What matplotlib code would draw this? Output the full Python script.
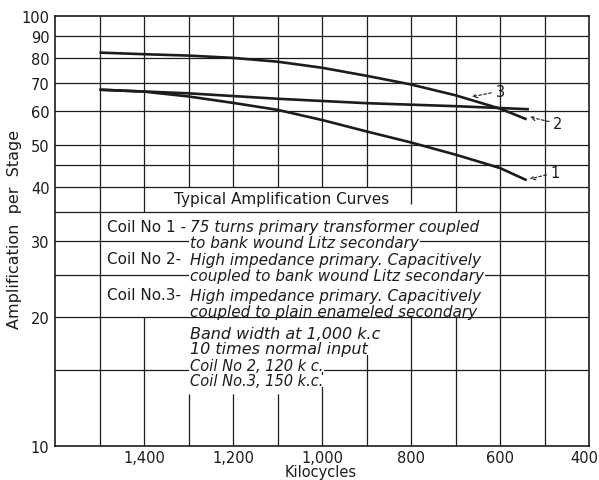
import matplotlib.pyplot as plt
from matplotlib.patches import Rectangle
from matplotlib.transforms import blended_transform_factory, ScaledTranslation, IdentityTransform

# curves (kilocycles, amplification per stage)
kc_coil1 = [1500, 1400, 1300, 1200, 1100, 1000, 900, 800, 700, 600, 540]
amp_coil1 = [67.4, 66.7, 65.0, 62.8, 60.5, 57.3, 53.9, 50.8, 47.6, 44.3, 41.5]
kc_coil2 = [1500, 1300, 1100, 900, 700, 535]
amp_coil2 = [67.4, 66.1, 64.2, 62.7, 61.7, 60.7]
kc_coil3 = [1500, 1400, 1300, 1200, 1100, 1000, 900, 800, 700, 600, 540]
amp_coil3 = [82.2, 81.5, 80.9, 79.9, 78.3, 75.8, 72.6, 69.3, 65.4, 60.9, 57.5]

y_ticks = [10, 20, 30, 40, 50, 60, 70, 80, 90, 100]
x_ticks = [1400, 1200, 1000, 800, 600, 400]
x_tick_labels = ["1,400", "1,200", "1,000", "800", "600", "400"]
h_grid = [15, 20, 25, 30, 35, 40, 45, 50, 60, 70, 80, 90]

title = "Typical Amplification Curves"
coil_heads = ["Coil No 1 -", "Coil No 2-", "Coil No.3-"]
coil_text = [["75 turns primary transformer coupled", "to bank wound Litz secondary"],
             ["High impedance primary. Capacitively", "coupled to bank wound Litz secondary"],
             ["High impedance primary. Capacitively", "coupled to plain enameled secondary"]]
band_text = ["Band width at 1,000 k.c", "10 times normal input",
             "Coil No 2, 120 k c.", "Coil No.3, 150 k.c."]

ink = "#1c1c1c"
fig = plt.figure(figsize=(5.99, 4.81), dpi=100)
ax = fig.add_axes([55 / 599, 34 / 481, 534 / 599, 430 / 481])
ax.set_yscale("log")
ax.set_xlim(1600, 400)
ax.set_ylim(10, 100)

# grid: horizontal lines full width, vertical lines broken round the text block
for v in h_grid:
    ax.axhline(v, color=ink, lw=0.9, zorder=1)
v_segments = {1500: [(10, 100)], 1400: [(10, 20), (35, 100)],
              1300: [(10, 13.2), (40, 100)], 1200: [(10, 13.2), (40, 100)],
              1100: [(10, 13.2), (40, 100)], 1000: [(10, 15), (40, 100)],
              900: [(10, 16.5), (40, 100)], 800: [(10, 20), (36.5, 100)],
              700: [(10, 20), (35, 100)], 600: [(10, 100)], 500: [(10, 100)]}
for k in v_segments:
    for lo, hi in v_segments[k]:
        ax.vlines(k, lo, hi, color=ink, lw=0.9, zorder=1)

ax.plot(kc_coil1, amp_coil1, color=ink, lw=1.9, zorder=4, solid_capstyle="butt")
ax.plot(kc_coil2, amp_coil2, color=ink, lw=1.9, zorder=4, solid_capstyle="butt")
ax.plot(kc_coil3, amp_coil3, color=ink, lw=1.9, zorder=4, solid_capstyle="butt")

arrow = dict(arrowstyle="->", color=ink, lw=0.8, ls=(0, (2.5, 2)),
             shrinkA=1, shrinkB=0, mutation_scale=8)
ax.annotate("3", xy=(663, 64.9), xytext=(600, 66.9), fontsize=10.5, color=ink,
            ha="center", va="center", arrowprops=arrow, zorder=5)
ax.annotate("2", xy=(533, 58.2), xytext=(470, 56.2), fontsize=10.5, color=ink,
            ha="center", va="center", arrowprops=arrow, zorder=5)
ax.annotate("1", xy=(533, 41.8), xytext=(476, 43.2), fontsize=10.5, color=ink,
            ha="center", va="center", arrowprops=arrow, zorder=5)

# text block over the grid
tr = blended_transform_factory(ax.transData, ax.transAxes)
block = []


def yfrac(ypix):
    return (447 - ypix) / 430


def letter(x, ypix, s, size, ha="left", italic=False):
    t = ax.text(x, yfrac(ypix), s, transform=tr, ha=ha, va="center", fontsize=size,
                style="italic" if italic else "normal", color=ink, zorder=3)
    block.append(t)


letter(1090, 200, title, 11, ha="center")
head_y = [228, 260, 296]
sub_y = [244, 277, 312]
for i in range(3):
    letter(1483, head_y[i], coil_heads[i], 11)
    letter(1297, head_y[i], coil_text[i][0], 11, italic=True)
    letter(1297, sub_y[i], coil_text[i][1], 11, italic=True)
band_y = [335, 350, 367, 382]
band_size = [11.5, 11.5, 10.5, 10.5]
for s, yp, fs in zip(band_text, band_y, band_size):
    letter(1297, yp, s, fs, italic=True)

ax.yaxis.set_major_locator(plt.FixedLocator(y_ticks))
ax.yaxis.set_minor_locator(plt.NullLocator())
ax.set_yticklabels([str(v) for v in y_ticks])
ax.set_xticks(x_ticks)
ax.set_xticklabels(x_tick_labels)
ax.tick_params(length=0, labelsize=10.5, colors=ink)
ax.tick_params(axis="x", pad=3)
ax.tick_params(axis="y", pad=4)
last = ax.get_xticklabels()[-1]
last.set_transform(last.get_transform() + ScaledTranslation(-5 / 100, 0, fig.dpi_scale_trans))
for sp in ax.spines.values():
    sp.set_linewidth(1.2)
    sp.set_color(ink)

fig.text(15 / 599, 1 - 229 / 481, "Amplification  per  Stage", rotation=90,
         ha="center", va="center", fontsize=11.5, color=ink)
fig.text(321 / 599, 1 - 473 / 481, "Kilocycles", ha="center", va="center",
         fontsize=10.5, color=ink)

# white patches behind each line of lettering hide the grid there
fig.canvas.draw()
r = fig.canvas.get_renderer()
for t in block:
    bb = t.get_window_extent(r)
    ax.add_patch(Rectangle((bb.x0 - 1, bb.y0 + 1.5), bb.width + 2, bb.height - 3,
                           transform=IdentityTransform(), facecolor="white",
                           edgecolor="none", zorder=2))

fig.savefig("out.png", dpi=100, facecolor="white")
